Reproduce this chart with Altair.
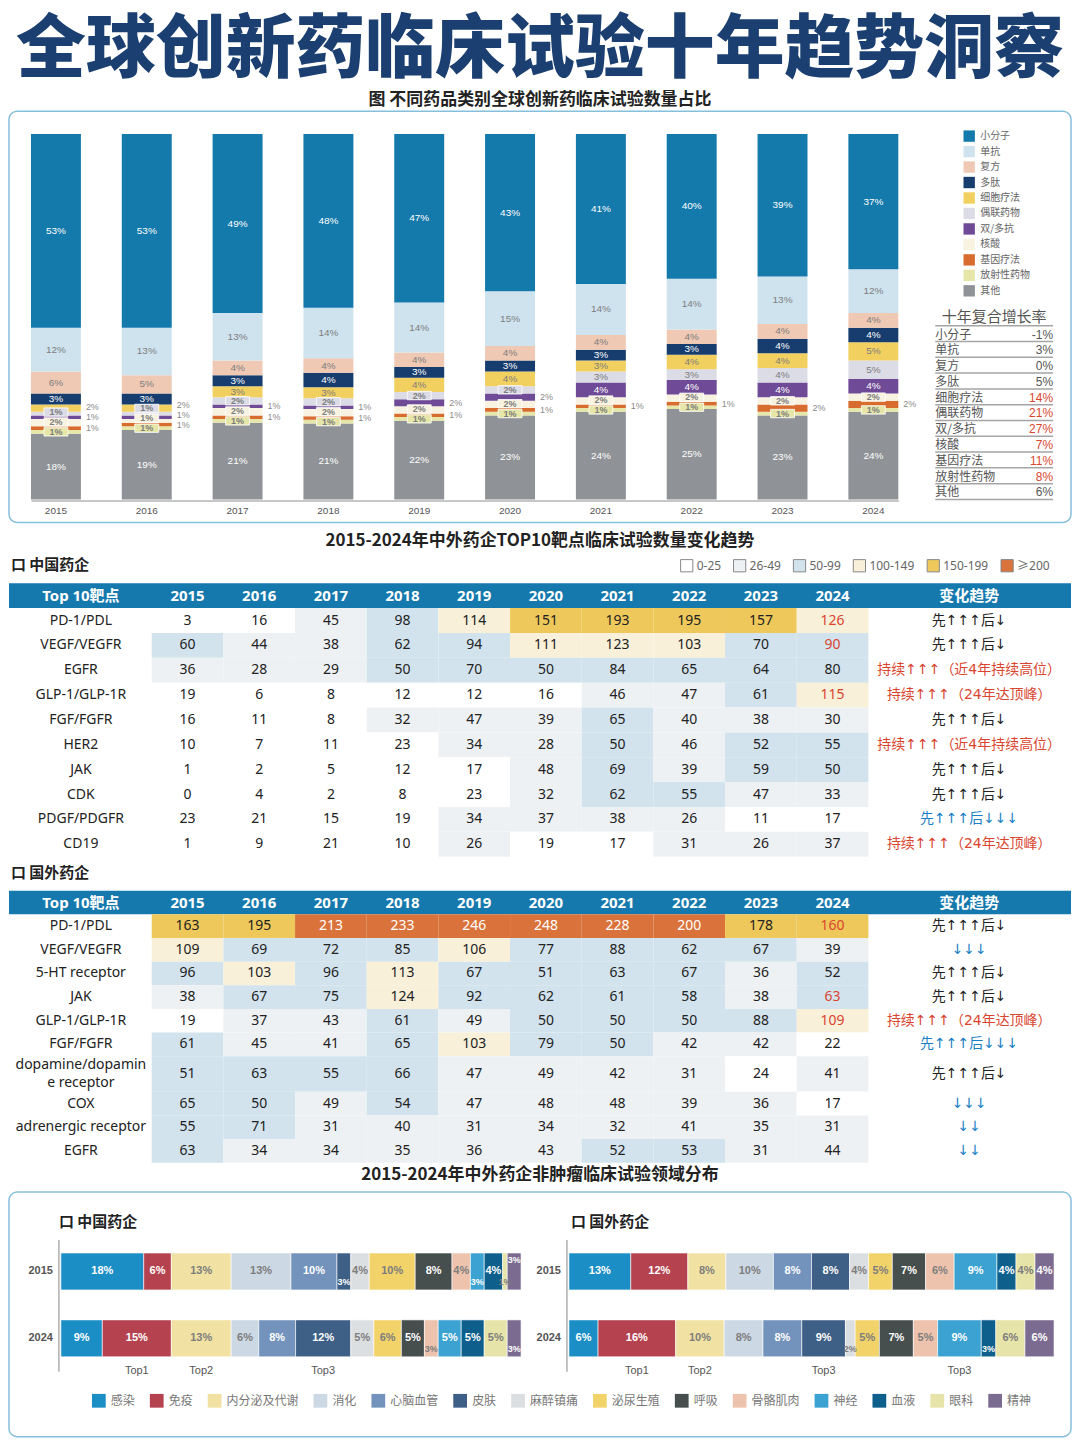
import altair as alt
import pandas as pd

W = 1064
LAT = "Noto Sans, Noto Sans CJK SC, sans-serif"
CJK = "Noto Sans CJK SC, sans-serif"
SANS = "Liberation Sans, Noto Sans CJK SC, sans-serif"
ARROW = "DejaVu Sans, Noto Sans CJK SC, sans-serif"

# ---------------- 1. drug-type shares (%) ----------------
years = ["2015", "2016", "2017", "2018", "2019", "2020", "2021", "2022", "2023", "2024"]
drug_types = ["小分子", "单抗", "复方", "多肽", "细胞疗法", "偶联药物", "双/多抗", "核酸", "基因疗法", "放射性药物", "其他"]
drug_colors = ["#1479ab", "#cfe3ef", "#f0c9b4", "#173d6e", "#f2d060", "#dcdce6", "#6f4a96", "#f8f3e0", "#d86c2e", "#e5e6a8", "#8f9397"]
share_small_molecule = [53, 53, 49, 48, 47, 43, 41, 40, 39, 37]
share_mab = [12, 13, 13, 14, 14, 15, 14, 14, 13, 12]
share_combo = [6, 5, 4, 4, 4, 4, 4, 4, 4, 4]
share_peptide = [3, 3, 3, 4, 3, 3, 3, 3, 4, 4]
share_cell = [2, 2, 3, 3, 4, 4, 3, 4, 4, 5]
share_adc = [1, 1, 2, 2, 2, 2, 3, 3, 4, 5]
share_bispecific = [1, 1, 1, 1, 2, 2, 4, 4, 4, 4]
share_nucleic = [2, 1, 2, 2, 2, 2, 2, 2, 2, 2]
share_gene = [1, 1, 1, 1, 1, 1, 1, 1, 2, 2]
share_radio = [1, 1, 1, 1, 1, 1, 1, 1, 1, 1]
share_other = [18, 19, 21, 21, 22, 23, 24, 25, 23, 24]
cagr = [-1, 3, 0, 5, 14, 21, 27, 7, 11, 8, 6]
dark_types = {"小分子", "多肽", "双/多抗", "基因疗法", "其他"}

# ---------------- 2. top-10 targets ----------------
bin_labels = ["0-25", "26-49", "50-99", "100-149", "150-199", "≥200"]
bin_lower = [0, 26, 50, 100, 150, 200]
bin_colors = ["#ffffff", "#eef1f4", "#d2e3ed", "#f8f0d9", "#eec85a", "#d9733b"]

cn_targets = ["PD-1/PDL", "VEGF/VEGFR", "EGFR", "GLP-1/GLP-1R", "FGF/FGFR", "HER2", "JAK", "CDK", "PDGF/PDGFR", "CD19"]
cn_pd1 = [3, 16, 45, 98, 114, 151, 193, 195, 157, 126]
cn_vegf = [60, 44, 38, 62, 94, 111, 123, 103, 70, 90]
cn_egfr = [36, 28, 29, 50, 70, 50, 84, 65, 64, 80]
cn_glp1 = [19, 6, 8, 12, 12, 16, 46, 47, 61, 115]
cn_fgf = [16, 11, 8, 32, 47, 39, 65, 40, 38, 30]
cn_her2 = [10, 7, 11, 23, 34, 28, 50, 46, 52, 55]
cn_jak = [1, 2, 5, 12, 17, 48, 69, 39, 59, 50]
cn_cdk = [0, 4, 2, 8, 23, 32, 62, 55, 47, 33]
cn_pdgf = [23, 21, 15, 19, 34, 37, 38, 26, 11, 17]
cn_cd19 = [1, 9, 21, 10, 26, 19, 17, 31, 26, 37]
cn_trends = ["先↑↑↑后↓", "先↑↑↑后↓", "持续↑↑↑（近4年持续高位）", "持续↑↑↑（24年达顶峰）", "先↑↑↑后↓",
             "持续↑↑↑（近4年持续高位）", "先↑↑↑后↓", "先↑↑↑后↓", "先↑↑↑后↓↓↓", "持续↑↑↑（24年达顶峰）"]
cn_red_2024 = ["PD-1/PDL", "VEGF/VEGFR", "GLP-1/GLP-1R"]

fo_targets = ["PD-1/PDL", "VEGF/VEGFR", "5-HT receptor", "JAK", "GLP-1/GLP-1R", "FGF/FGFR",
              "dopamine/dopamine receptor", "COX", "adrenergic receptor", "EGFR"]
fo_pd1 = [163, 195, 213, 233, 246, 248, 228, 200, 178, 160]
fo_vegf = [109, 69, 72, 85, 106, 77, 88, 62, 67, 39]
fo_5ht = [96, 103, 96, 113, 67, 51, 63, 67, 36, 52]
fo_jak = [38, 67, 75, 124, 92, 62, 61, 58, 38, 63]
fo_glp1 = [19, 37, 43, 61, 49, 50, 50, 50, 88, 109]
fo_fgf = [61, 45, 41, 65, 103, 79, 50, 42, 42, 22]
fo_dopamine = [51, 63, 55, 66, 47, 49, 42, 31, 24, 41]
fo_cox = [65, 50, 49, 54, 47, 48, 48, 39, 36, 17]
fo_adrenergic = [55, 71, 31, 40, 31, 34, 32, 41, 35, 31]
fo_egfr = [63, 34, 34, 35, 36, 43, 52, 53, 31, 44]
fo_trends = ["先↑↑↑后↓", "↓↓↓", "先↑↑↑后↓", "先↑↑↑后↓", "持续↑↑↑（24年达顶峰）", "先↑↑↑后↓↓↓",
             "先↑↑↑后↓", "↓↓↓", "↓↓", "↓↓"]
fo_red_2024 = ["PD-1/PDL", "JAK", "GLP-1/GLP-1R"]

# ---------------- 3. non-oncology therapeutic areas (%) ----------------
areas = ["感染", "免疫", "内分泌及代谢", "消化", "心脑血管", "皮肤", "麻醉镇痛", "泌尿生殖", "呼吸",
         "骨骼肌肉", "神经", "血液", "眼科", "精神"]
area_colors = ["#1b8ec6", "#b5434f", "#f1e2a3", "#ccd8e4", "#7393bd", "#3e5f86", "#dcdfe2", "#f2d36a",
               "#464e4e", "#eec3ad", "#3ba2d2", "#0e5f8c", "#e6e4a8", "#7b6b90"]
cn_2015 = [18, 6, 13, 13, 10, 3, 4, 10, 8, 4, 3, 4, 1, 3]
cn_2024 = [9, 15, 13, 6, 8, 12, 5, 6, 5, 3, 5, 5, 5, 3]
fo_2015 = [13, 12, 8, 10, 8, 8, 4, 5, 7, 6, 9, 4, 4, 4]
fo_2024 = [6, 16, 10, 8, 8, 9, 2, 5, 7, 5, 9, 3, 6, 6]
cn_top_areas = {"免疫": "Top1", "内分泌及代谢": "Top2", "皮肤": "Top3"}
fo_top_areas = {"免疫": "Top1", "内分泌及代谢": "Top2", "皮肤": "Top3", "神经": "Top3"}
dark_areas = {"感染", "免疫", "心脑血管", "皮肤", "呼吸", "神经", "血液", "精神"}

section_titles = ["2015-2024年中外药企TOP10靶点临床试验数量变化趋势", "2015-2024年中外药企非肿瘤临床试验领域分布"]

tone_scale = alt.Scale(domain=["w", "g", "dk", "mid", "red", "blue", "white"],
                       range=["#ffffff", "#7d7d7d", "#222222", "#555555", "#d9452f", "#1a7fc4", "#ffffff"])

# =============== TOP CHART ===============
share_by_type = dict(zip(drug_types, [share_small_molecule, share_mab, share_combo, share_peptide, share_cell,
                                       share_adc, share_bispecific, share_nucleic, share_gene, share_radio,
                                       share_other]))
stack_order = list(reversed(drug_types))
seg_rows, small_rows = [], []
for i, yr in enumerate(years):
    vals = [share_by_type[t][i] for t in stack_order]
    total = float(sum(vals))
    cum = 0.0
    smalls = []
    for t, v in zip(stack_order, vals):
        y0 = cum / total * 100
        cum += v
        y1 = cum / total * 100
        row = dict(year=yr, type=t, v=v, y0=y0, y1=y1, mid=(y0 + y1) / 2, label=f"{v}%",
                   tc="w" if t in dark_types else "g")
        seg_rows.append(row)
        if v < 3:
            smalls.append(row)
    last = {"in": -99.0, "out": -99.0}
    for k, row in enumerate(smalls):
        side = "in" if k % 2 == 0 else "out"
        ly = max(row["mid"], last[side] + 2.7)
        last[side] = ly
        small_rows.append(dict(row, side=side, ly=ly, ly0=ly - 1.15, ly1=ly + 1.15))
seg_df = pd.DataFrame(seg_rows)
small_df = pd.DataFrame(small_rows)

X_top = alt.X("year:N", scale=alt.Scale(domain=years, range=[22, 891], paddingInner=0.45, paddingOuter=0),
              axis=alt.Axis(title=None, offset=-22, labelAngle=0, ticks=False, domainColor="#b5b5b5",
                            domainWidth=1.5, labelColor="#555", labelFontSize=10, labelFont=SANS,
                            labelPadding=5))


def Y_top(f):
    return alt.Y(f, scale=alt.Scale(domain=[0, 100], range=[389, 23], nice=False, zero=False), axis=None)


fill_top = alt.Fill("type:N", scale=alt.Scale(domain=drug_types, range=drug_colors),
                    legend=alt.Legend(orient="none", legendX=956, legendY=19, direction="vertical", title=None,
                                      symbolType="square", symbolSize=130, symbolStrokeWidth=0,
                                      labelFont=CJK, labelFontSize=10, labelColor="#666",
                                      rowPadding=3.5, labelOffset=5))
tone = alt.Color("tc:N", scale=tone_scale, legend=None)

bars = alt.Chart(seg_df).mark_bar().encode(x=X_top, y=Y_top("y0:Q"), y2="y1:Q", fill=fill_top)
big_text = alt.Chart(seg_df[seg_df.v >= 3]).mark_text(font=SANS, fontSize=10).encode(
    x=X_top, y=Y_top("mid:Q"), text="label:N", color=tone)
in_df = small_df[small_df.side == "in"]
in_box = alt.Chart(in_df).mark_bar(width=24, stroke="white", strokeWidth=0.8).encode(
    x=X_top, y=Y_top("ly0:Q"), y2="ly1:Q", fill=fill_top)
in_text = alt.Chart(in_df).mark_text(font=SANS, fontSize=9, fontWeight="bold").encode(
    x=X_top, y=Y_top("ly:Q"), text="label:N", color=tone)
out_text = alt.Chart(small_df[small_df.side == "out"]).mark_text(
    font=SANS, fontSize=9, align="left", dx=30, color="#8a8a8a").encode(
    x=X_top, y=Y_top("ly:Q"), text="label:N")

cagr_rows = ["十年复合增长率"] + drug_types
Y_cagr = alt.Y("row:N", scale=alt.Scale(type="point", domain=cagr_rows, range=[207, 381], padding=0), axis=None)
cagr_df = pd.DataFrame({"row": drug_types, "value": [f"{v}%" for v in cagr],
                        "tc": ["red" if v >= 7 else "mid" for v in cagr]})
cagr_head_df = pd.DataFrame({"row": ["十年复合增长率"]})
cagr_lines = alt.Chart(pd.DataFrame({"row": cagr_rows})).mark_rule(
    yOffset=8, color="#a5a5a5", strokeWidth=1.5).encode(y=Y_cagr, x=alt.value(928), x2=alt.value(1046))
cagr_head = alt.Chart(cagr_head_df).mark_text(font=CJK, fontSize=15, color="#555", dy=-1).encode(
    x=alt.value(987), y=Y_cagr, text="row:N")
cagr_names = alt.Chart(cagr_df).mark_text(font=CJK, fontSize=12, align="left", color="#555", dy=1).encode(
    x=alt.value(928), y=Y_cagr, text="row:N")
cagr_vals = alt.Chart(cagr_df).mark_text(font=SANS, fontSize=12, align="right", dy=1).encode(
    x=alt.value(1046), y=Y_cagr, text="value:N", color=tone)

top_chart = alt.layer(bars, big_text, in_box, in_text, out_text, cagr_lines, cagr_head, cagr_names, cagr_vals
                      ).resolve_scale(y="independent").properties(
    width=W, height=412, view=alt.ViewBackground(stroke="#86bfdb", strokeWidth=1.5, cornerRadius=8, fill="white"))

# =============== TABLES ===============
X0, X1 = 143, 861
NAME_LH = 18


def wrap_label(name, limit=20, cut=16):
    return name if len(name) <= limit else name[:cut] + "\n" + name[cut:]


def trend_tone(s):
    if s.startswith("持续"):
        return "red"
    if "↓↓" in s:
        return "blue"
    return "dk"


def bin_of(v):
    idx = sum(1 for b in bin_lower if v >= b) - 1
    return bin_labels[idx]


def free_text(txt, x, y, size, align="left"):
    return alt.Chart(pd.DataFrame({"t": [txt]})).mark_text(
        font=CJK, fontSize=size, fontWeight="bold", align=align, color="#222").encode(
        x=alt.value(x), y=alt.value(y), text="t:N")


def table_chart(section, targets, rows, trends, red_targets, unit_px, header_top, label_y, height,
                legend=None, extra=()):
    labels = [wrap_label(t) for t in targets]
    nlines = [lab.count("\n") + 1 for lab in labels]
    units = [1 + 0.5 * (n - 1) for n in nlines]
    tops, acc = [], 1.0
    for u in units:
        tops.append(acc)
        acc += u
    total = acc
    ys = alt.Scale(domain=[0, total], range=[header_top, header_top + total * unit_px], nice=False, zero=False)
    xs = alt.Scale(domain=years, range=[X0, X1], paddingInner=0, paddingOuter=0)
    Xc = alt.X("year:N", scale=xs, axis=None)

    cells, names = [], []
    for t, lab, n, top, u, vals, tr in zip(targets, labels, nlines, tops, units, rows, trends):
        names.append(dict(label=lab, lines=n, mid=top + u / 2, trend=tr, tc=trend_tone(tr)))
        for yr, v in zip(years, vals):
            tcol = "red" if (yr == "2024" and t in red_targets) else ("white" if v >= 200 else "dk")
            cells.append(dict(year=yr, top=top, bottom=top + u, mid=top + u / 2, value=str(v),
                              bin=bin_of(v), tc=tcol))
    cells_df = pd.DataFrame(cells)
    names_df = pd.DataFrame(names)

    header = alt.Chart(pd.DataFrame({"a": [0.0], "b": [1.0]})).mark_rect(color="#1679ad").encode(
        x=alt.value(0), x2=alt.value(W), y=alt.Y("a:Q", scale=ys, axis=None), y2="b:Q")
    rects = alt.Chart(cells_df).mark_rect().encode(
        x=Xc, y=alt.Y("top:Q", scale=ys, axis=None), y2="bottom:Q",
        fill=alt.Fill("bin:N", scale=alt.Scale(domain=bin_labels, range=bin_colors),
                      legend=legend if legend is not None else None))
    vals_t = alt.Chart(cells_df).mark_text(font=LAT, fontSize=14).encode(
        x=Xc, y=alt.Y("mid:Q", scale=ys, axis=None), text="value:N",
        color=alt.Color("tc:N", scale=tone_scale, legend=None))
    hdr_years = alt.Chart(pd.DataFrame({"year": years, "mid": [0.5] * len(years)})).mark_text(
        font=LAT, fontSize=15, fontWeight="bold", color="white").encode(
        x=Xc, y=alt.Y("mid:Q", scale=ys, axis=None), text="year:N")
    hdr_left = alt.Chart(pd.DataFrame({"t": ["Top 10靶点"], "mid": [0.5]})).mark_text(
        font=LAT, fontSize=15, fontWeight="bold", color="white").encode(
        x=alt.value(72), y=alt.Y("mid:Q", scale=ys, axis=None), text="t:N")
    hdr_right = alt.Chart(pd.DataFrame({"t": ["变化趋势"], "mid": [0.5]})).mark_text(
        font=CJK, fontSize=15, fontWeight="bold", color="white").encode(
        x=alt.value(962), y=alt.Y("mid:Q", scale=ys, axis=None), text="t:N")
    layers = [header, rects, vals_t, hdr_years, hdr_left, hdr_right]
    for n in sorted(names_df.lines.unique()):
        sub = names_df[names_df.lines == n]
        layers.append(alt.Chart(sub).mark_text(
            font=LAT, fontSize=14, lineBreak="\n", lineHeight=NAME_LH, color="#222",
            dy=-NAME_LH * (n - 1) / 2).encode(
            x=alt.value(72), y=alt.Y("mid:Q", scale=ys, axis=None), text="label:N"))
    trend_t = alt.Chart(names_df).mark_text(font=ARROW, fontSize=14).encode(
        x=alt.value(962), y=alt.Y("mid:Q", scale=ys, axis=None), text="trend:N",
        color=alt.Color("tc:N", scale=tone_scale, legend=None))
    layers.append(trend_t)
    layers.append(free_text(section, 2, label_y, 15))
    layers.extend(extra)
    return alt.layer(*layers).properties(width=W, height=height)


bin_legend = alt.Legend(orient="none", legendX=672, legendY=31, direction="horizontal", columns=6, title=None,
                        symbolType="square", symbolSize=150, symbolStrokeColor="#888", symbolStrokeWidth=1,
                        labelFont=LAT, labelFontSize=12, labelColor="#666", columnPadding=9, labelOffset=3)

cn_table = table_chart("口  中国药企", cn_targets,
                       [cn_pd1, cn_vegf, cn_egfr, cn_glp1, cn_fgf, cn_her2, cn_jak, cn_cdk, cn_pdgf, cn_cd19],
                       cn_trends, cn_red_2024, unit_px=24.9, header_top=56, label_y=38, height=331,
                       legend=bin_legend,
                       extra=[free_text(section_titles[0], W / 2, 14, 17, align="center")])
fo_table = table_chart("口  国外药企", fo_targets,
                       [fo_pd1, fo_vegf, fo_5ht, fo_jak, fo_glp1, fo_fgf, fo_dopamine, fo_cox, fo_adrenergic,
                        fo_egfr],
                       fo_trends, fo_red_2024, unit_px=23.7, header_top=29, label_y=11, height=326,
                       extra=[free_text(section_titles[1], W / 2, 314, 17, align="center")])

# =============== BOTTOM CHART ===============
area_rows = []
for panel, series, tops in [("cn", [("2015", cn_2015), ("2024", cn_2024)], cn_top_areas),
                            ("fo", [("2015", fo_2015), ("2024", fo_2024)], fo_top_areas)]:
    for yr, vals in series:
        total = float(sum(vals))
        cum = 0.0
        prev_dy = 0
        for a, v in zip(areas, vals):
            x0 = cum / total * 100
            cum += v
            x1 = cum / total * 100
            if v < 4:
                dy = -11 if prev_dy > 0 else 11
            else:
                dy = 0
            prev_dy = dy
            area_rows.append(dict(panel=panel, year=yr, area=a, v=v, x0=x0, x1=x1, mid=(x0 + x1) / 2,
                                  label=f"{v}%", tc="w" if a in dark_areas else "g", dy=dy,
                                  top=tops.get(a, "") if yr == "2024" else ""))
area_df = pd.DataFrame(area_rows)

Y_area = alt.Y("year:N", scale=alt.Scale(domain=["2015", "2024"], range=[61, 165], paddingInner=0.448,
                                         paddingOuter=0), axis=None)
fill_area = alt.Fill("area:N", scale=alt.Scale(domain=areas, range=area_colors),
                     legend=alt.Legend(orient="none", legendX=83, legendY=202, direction="horizontal", columns=14,
                                       title=None, symbolType="square", symbolSize=190, symbolStrokeWidth=0,
                                       labelFont=CJK, labelFontSize=12, labelColor="#777", columnPadding=14,
                                       labelOffset=5))


def area_panel(panel, rng, name, name_x, year_x):
    d = area_df[area_df.panel == panel]
    xs = alt.Scale(domain=[0, 100], range=rng, nice=False, zero=False)

    def X(f):
        return alt.X(f, scale=xs, axis=None)

    b = alt.Chart(d).mark_bar(stroke="white", strokeWidth=0.6).encode(
        x=X("x0:Q"), x2="x1:Q", y=Y_area, fill=fill_area)
    big = alt.Chart(d[d.dy == 0]).mark_text(font=SANS, fontSize=11, fontWeight="bold").encode(
        x=X("mid:Q"), y=Y_area, text="label:N", color=tone)
    low = alt.Chart(d[d.dy > 0]).mark_text(font=SANS, fontSize=9, fontWeight="bold", dy=11).encode(
        x=X("mid:Q"), y=Y_area, text="label:N", color=tone)
    high = alt.Chart(d[d.dy < 0]).mark_text(font=SANS, fontSize=9, fontWeight="bold", dy=-11).encode(
        x=X("mid:Q"), y=Y_area, text="label:N", color=tone)
    tops = alt.Chart(d[d.top != ""]).mark_text(font=SANS, fontSize=11, color="#555", dy=33).encode(
        x=X("mid:Q"), y=Y_area, text="top:N")
    axis_line = alt.Chart(d.head(1)).mark_rule(color="#9a9a9a", strokeWidth=1.2, xOffset=-2).encode(
        x=alt.datum(0), y=alt.value(48), y2=alt.value(180))
    yrs = alt.Chart(pd.DataFrame({"year": ["2015", "2024"]})).mark_text(
        font=SANS, fontSize=11, fontWeight="bold", align="right", color="#555").encode(
        x=alt.value(year_x), y=Y_area, text="year:N")
    ttl = free_text(name, name_x, 30, 15)
    return alt.layer(b, big, low, high, tops, axis_line, yrs, ttl)


bottom_chart = alt.layer(
    area_panel("cn", [52, 513], "口  中国药企", 50, 44),
    area_panel("fo", [561, 1047], "口  国外药企", 563, 553),
).resolve_scale(x="independent").properties(
    width=W, height=245,
    view=alt.ViewBackground(stroke="#86bfdb", strokeWidth=1.5, cornerRadius=8, fill="white"))

chart = alt.vconcat(
    top_chart, cn_table, fo_table, bottom_chart, spacing=4,
    title=alt.TitleParams("全球创新药临床试验十年趋势洞察",
                          subtitle="图 不同药品类别全球创新药临床试验数量占比",
                          font=CJK, fontSize=70, fontWeight=900, color="#1b3f70",
                          subtitleFont=CJK, subtitleFontSize=17, subtitleFontWeight="bold",
                          subtitleColor="#222", subtitlePadding=5, anchor="middle", offset=1),
).resolve_scale(fill="independent", color="independent").resolve_legend(
    fill="independent", color="independent").properties(
    padding={"top": 7, "left": 0, "right": 0, "bottom": 0}, background="white").configure_view(stroke=None)

chart.save("out.html", embed_options={"renderer": "svg", "actions": False})
